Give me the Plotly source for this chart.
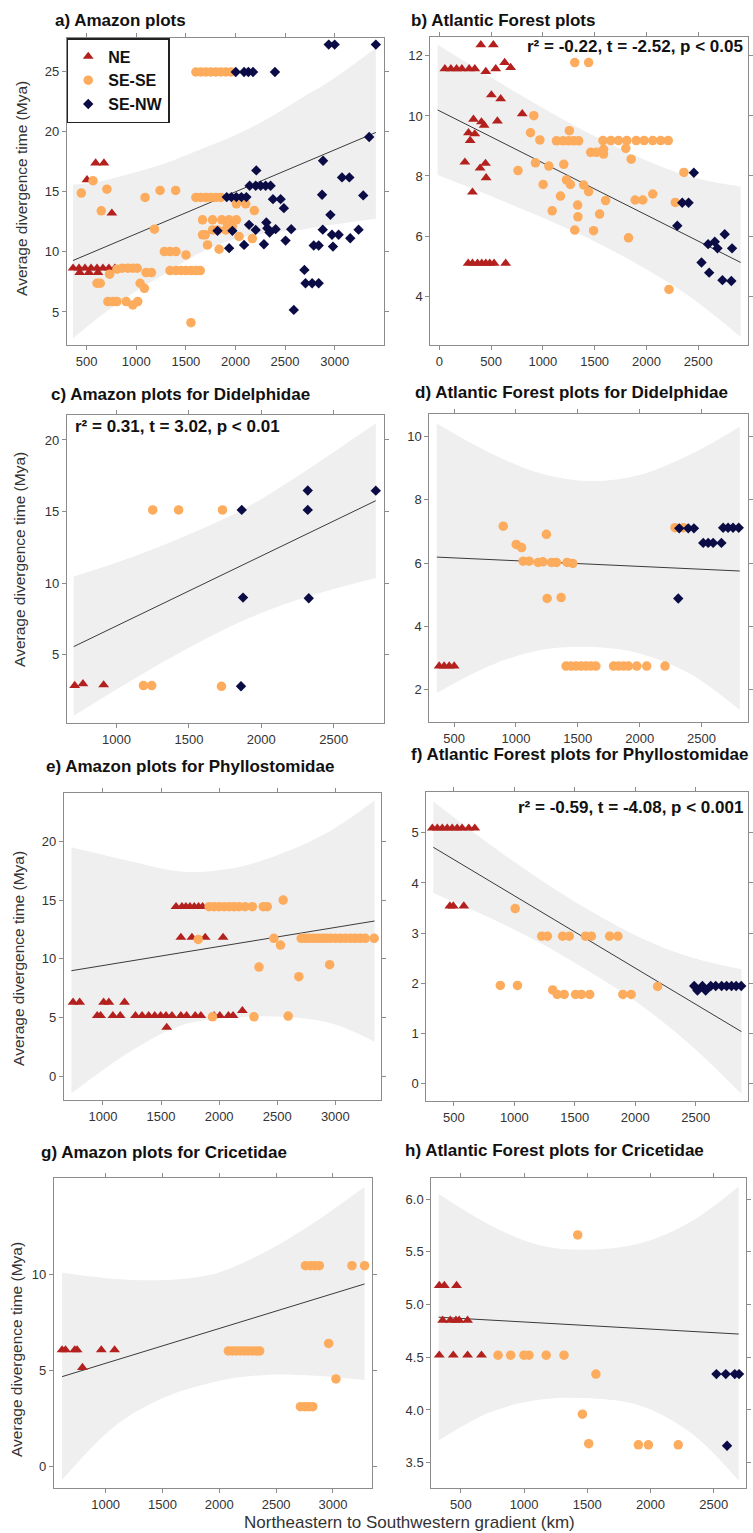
import plotly.graph_objects as go

W, H = 753, 1533
FONT = "Liberation Sans, Arial, sans-serif"
C_NE, C_SESE, C_SENW = "#B3201E", "#FDAB5C", "#0B0C46"
C_BAND, C_LINE, C_AXIS, C_TEXT = "#EFEFEF", "#3A3A3A", "#8C8C8C", "#333333"
GROUPS = ["NE", "SE-SE", "SE-NW"]

# ---------------- panel a: Amazon plots ----------------
A_NE_X = [363, 423, 483, 544, 604, 664, 724, 784, 430, 523, 614, 503, 590, 674, 754]
A_NE_Y = [8.64, 8.64, 8.64, 8.64, 8.64, 8.64, 8.64, 8.64, 8.28, 8.28, 8.28, 16.0, 17.39, 17.39, 13.22]
A_SESE_X = [446, 564, 704, 647, 604, 637, 731, 805, 858, 915, 965, 1009, 714, 764, 805, 898, 965, 1015,
            1039, 1082, 1089, 1099, 1153, 1183, 1240, 1397, 1283, 1340, 1400, 1501, 1340, 1400, 1451, 1501,
            1551, 1601, 1645, 1551, 1601, 1651, 1702, 1752, 1802, 1852, 1668, 1769, 1862, 1936, 2009, 1668,
            1695, 1718, 1769, 1819, 1902, 1835, 1922, 1969, 2036, 2009, 2103, 2190, 2170,
            1601, 1651, 1702, 1752, 1802, 1852, 1902, 1953]
A_SESE_Y = [14.89, 15.92, 15.22, 13.42, 7.39, 7.39, 8.14, 8.56, 8.64, 8.64, 8.64, 8.64, 5.86, 5.86, 5.86, 5.86, 5.58, 5.86,
            7.39, 6.97, 14.53, 8.28, 8.28, 11.89, 15.11, 15.11, 10.03, 10.03, 10.03, 9.75, 8.44, 8.44, 8.44, 8.44,
            8.44, 8.44, 8.44, 4.11, 14.53, 14.53, 14.53, 14.53, 14.53, 14.53, 12.67, 12.67, 12.67, 12.67, 12.67, 11.42,
            11.42, 10.58, 11.83, 11.83, 11.83, 10.22, 12.25, 12.11, 11.28, 14.0, 14.0, 13.44, 11.11,
            24.97, 24.97, 24.97, 24.97, 24.97, 24.97, 24.97, 24.97]
A_SENW_X = [2003, 2087, 2130, 2177, 2398, 1912, 1959, 2009, 2060, 2110, 2143, 2204, 2254, 2304, 2354, 2210,
            2378, 2455, 2488, 1819, 1969, 1936, 2087, 2137, 2204, 2311, 2321, 2344, 2405, 2287, 2505, 2562,
            2940, 3000, 3415, 3348, 2883, 3074, 3148, 2873, 3288, 2957, 2880, 2973, 3040, 2983, 3157, 3241,
            2789, 2839, 2695, 2706, 2773, 2839, 2588]
A_SENW_Y = [24.97, 24.97, 24.97, 24.97, 24.97, 14.56, 14.56, 14.56, 14.56, 14.56, 15.5, 15.5, 15.5, 15.5, 15.5, 16.78,
            14.39, 14.39, 13.64, 11.75, 11.75, 10.31, 10.58, 12.25, 11.83, 12.44, 11.97, 11.61, 11.89, 10.64, 10.94, 11.89,
            27.25, 27.25, 27.25, 19.56, 17.58, 16.2, 16.2, 14.75, 14.7, 13.08, 11.85, 11.42, 11.42, 10.44, 11.14, 11.85,
            10.53, 10.53, 8.5, 7.39, 7.39, 7.39, 5.17]
A_FIT_X = [362, 3415]
A_FIT_Y = [9.28, 19.94]
A_BAND_X = [362, 630, 965, 1300, 1635, 1969, 2304, 2639, 2973, 3415]
A_BAND_HI = [15.58, 15.86, 16.56, 17.39, 18.5, 19.6, 21.0, 22.67, 24.33, 26.97]
A_BAND_LO = [2.81, 4.61, 6.56, 8.22, 9.89, 11.0, 11.56, 11.83, 12.25, 12.75]

# ---------------- panel b: Atlantic Forest plots ----------------
B_NE_X = [54, 112, 167, 218, 288, 343, 449, 545, 631, 689, 401, 522, 503, 593, 330, 407, 433, 561, 801,
          282, 343, 298, 247, 394, 446, 452, 320, 279, 320, 369, 410, 449, 487, 529, 641]
B_NE_Y = [11.57, 11.57, 11.57, 11.57, 11.57, 11.57, 11.48, 11.57, 11.78, 11.61, 12.37, 12.37, 10.7, 10.57, 9.89, 9.8, 9.69, 9.83, 10.07,
          9.44, 9.4, 9.18, 8.46, 8.26, 8.42, 7.94, 7.46, 5.09, 5.09, 5.09, 5.09, 5.09, 5.09, 5.09, 5.09]
B_SESE_X = [1308, 1442, 913, 881, 971, 760, 929, 1058, 1202, 1256, 1131, 1195, 1250, 1298, 1346, 1462, 1516, 1586, 1586,
            1580, 1657, 1731, 1811, 1901, 1978, 2061, 2138, 2211, 1801, 1853, 1003, 1170, 1228, 1266, 1394, 1442,
            1090, 1336, 1339, 1308, 1490, 1548, 1606, 1891, 1965, 2061, 1827, 2218, 2279, 2362]
B_SESE_Y = [11.78, 11.78, 10.01, 9.44, 9.2, 8.18, 8.44, 8.33, 8.39, 9.51, 9.17, 9.17, 9.17, 9.17, 9.17, 8.79, 8.79, 8.89, 8.73,
            9.18, 9.18, 9.18, 9.18, 9.18, 9.18, 9.18, 9.18, 9.18, 8.92, 8.56, 7.72, 7.33, 7.87, 7.72, 7.7, 7.48,
            6.84, 7.03, 6.64, 6.2, 6.18, 6.73, 7.18, 7.2, 7.2, 7.4, 5.94, 4.22, 7.12, 8.12]
B_SENW_X = [2458, 2346, 2407, 2298, 2596, 2660, 2686, 2756, 2827, 2532, 2606, 2734, 2820]
B_SENW_Y = [8.11, 7.11, 7.11, 6.34, 5.73, 5.81, 5.59, 6.06, 5.59, 5.12, 4.78, 4.53, 4.5]
B_FIT_X = [-16, 2910]
B_FIT_Y = [10.2, 5.12]
B_BAND_X = [-16, 497, 978, 1458, 1939, 2420, 2910]
B_BAND_HI = [12.37, 11.29, 10.31, 9.4, 8.61, 7.98, 7.64]
B_BAND_LO = [8.03, 7.33, 6.64, 5.89, 5.01, 3.98, 2.64]

# ---------------- panel c: Amazon, Didelphidae ----------------
C_NE_X = [711, 768, 911]
C_NE_Y = [2.86, 2.98, 2.91]
C_SESE_X = [1186, 1243, 1725, 1250, 1429, 1732]
C_SESE_Y = [2.86, 2.86, 2.81, 15.12, 15.12, 15.12]
C_SENW_X = [1865, 1874, 1860, 2321, 2321, 2328, 2791]
C_SENW_Y = [15.12, 9.0, 2.81, 16.47, 15.12, 8.95, 16.46]
C_FIT_X = [704, 2791]
C_FIT_Y = [5.58, 15.76]
C_BAND_X = [704, 1100, 1500, 1900, 2300, 2791]
C_BAND_HI = [10.47, 11.8, 13.4, 15.3, 17.8, 21.16]
C_BAND_LO = [0.75, 3.2, 5.5, 7.5, 9.0, 10.36]

# ---------------- panel d: Atlantic Forest, Didelphidae ----------------
D_NE_X = [379, 419, 460, 500]
D_NE_Y = [2.74, 2.74, 2.74, 2.74]
D_SESE_X = [897, 1002, 1045, 1246, 1058, 1106, 1179, 1217, 1287, 1327, 1413, 1459, 1252, 1365,
            1405, 1445, 1485, 1526, 1566, 1606, 1646, 1789, 1829, 1869, 1909, 1977, 2057, 2205, 2286, 2353]
D_SESE_Y = [7.17, 6.59, 6.49, 6.91, 6.06, 6.06, 6.02, 6.04, 6.02, 6.02, 6.02, 5.99, 4.88, 4.91,
            2.74, 2.74, 2.74, 2.74, 2.74, 2.74, 2.74, 2.74, 2.74, 2.74, 2.74, 2.74, 2.74, 2.74, 7.12, 7.12]
D_SENW_X = [2320, 2393, 2439, 2514, 2554, 2594, 2661, 2675, 2715, 2755, 2801, 2312]
D_SENW_Y = [7.1, 7.1, 7.1, 6.64, 6.64, 6.64, 6.64, 7.12, 7.12, 7.12, 7.12, 4.88]
D_FIT_X = [360, 2809]
D_FIT_Y = [6.19, 5.75]
D_BAND_X = [360, 800, 1200, 1600, 2000, 2400, 2809]
D_BAND_HI = [10.42, 9.47, 8.84, 8.6, 8.79, 9.42, 10.32]
D_BAND_LO = [1.89, 2.77, 3.25, 3.35, 3.14, 2.51, 1.35]

# ---------------- panel e: Amazon, Phyllostomidae ----------------
E_NE_X = [743, 800, 1006, 1051, 1186, 951, 980, 1086, 1149,
          1280, 1337, 1394, 1446, 1497, 1543, 1594, 1671, 1720, 1794, 1843, 1957, 2006, 2080, 2120,
          1549, 2200, 1629, 1680, 1714, 1749, 1786, 1823, 1857, 1671, 1766, 1880, 2034]
E_NE_Y = [6.29, 6.29, 6.29, 6.29, 6.29, 5.15, 5.15, 5.15, 5.15,
          5.15, 5.15, 5.15, 5.15, 5.15, 5.15, 5.15, 5.15, 5.15, 5.15, 5.15, 5.15, 5.15, 5.15, 5.15,
          4.15, 5.58, 14.45, 14.45, 14.45, 14.45, 14.45, 14.45, 14.45, 11.83, 11.83, 11.83, 11.83]
E_SESE_X = [1914, 1957, 2000, 2043, 2086, 2129, 2171, 2223, 2286, 2380, 2414, 2551, 1820, 2471, 2528,
            2343, 2686, 2951, 1943, 2300, 2594,
            2706, 2743, 2777, 2814, 2851, 2886, 2920, 2957, 3000, 3043, 3086, 3129, 3171, 3214, 3257, 3334]
E_SESE_Y = [14.45, 14.45, 14.45, 14.45, 14.45, 14.45, 14.45, 14.45, 14.45, 14.45, 14.45, 15.02, 11.66, 11.75, 11.18,
            9.3, 8.48, 9.5, 5.06, 5.06, 5.12,
            11.75, 11.75, 11.75, 11.75, 11.75, 11.75, 11.75, 11.75, 11.75, 11.75, 11.75, 11.75, 11.75, 11.75, 11.75, 11.75]
E_SENW_X = []
E_SENW_Y = []
E_FIT_X = [729, 3337]
E_FIT_Y = [8.99, 13.23]
E_BAND_X = [729, 1257, 1686, 2114, 2543, 2971, 3337]
E_BAND_HI = [19.52, 18.29, 17.44, 17.72, 19.0, 21.0, 23.5]
E_BAND_LO = [-1.48, 2.22, 4.35, 5.0, 5.06, 4.49, 2.93]

# ---------------- panel f: Atlantic Forest, Phyllostomidae ----------------
F_NE_X = [322, 363, 404, 445, 486, 527, 568, 623, 673, 467, 495, 582]
F_NE_Y = [5.09, 5.09, 5.09, 5.09, 5.09, 5.09, 5.09, 5.09, 5.09, 3.54, 3.54, 3.54]
F_SESE_X = [1007, 884, 1026, 1226, 1273, 1399, 1454, 1588, 1637, 1788, 1856, 1317, 1355, 1412,
            1506, 1555, 1623, 1897, 1966, 2185]
F_SESE_Y = [3.49, 1.96, 1.96, 2.94, 2.94, 2.94, 2.94, 2.94, 2.94, 2.94, 2.94, 1.87, 1.78, 1.78,
            1.78, 1.78, 1.78, 1.78, 1.78, 1.94]
F_SENW_X = [2487, 2514, 2555, 2582, 2624, 2665, 2714, 2755, 2796, 2834, 2876]
F_SENW_Y = [1.95, 1.86, 1.95, 1.86, 1.95, 1.95, 1.95, 1.95, 1.95, 1.95, 1.95]
F_FIT_X = [330, 2878]
F_FIT_Y = [4.71, 1.04]
F_BAND_X = [330, 801, 1212, 1623, 2034, 2445, 2878]
F_BAND_HI = [5.62, 4.76, 4.07, 3.45, 2.92, 2.53, 2.28]
F_BAND_LO = [3.80, 3.30, 2.81, 2.23, 1.59, 0.80, -0.20]

# ---------------- panel g: Amazon, Cricetidae ----------------
G_NE_X = [617, 647, 728, 749, 962, 1079, 796]
G_NE_Y = [6.07, 6.07, 6.07, 6.07, 6.07, 6.07, 5.15]
G_SESE_X = [2080, 2115, 2150, 2186, 2221, 2256, 2291, 2326, 2355, 2758, 2802, 2840, 2880, 3167, 3278,
            2962, 3026, 2714, 2752, 2787, 2822]
G_SESE_Y = [6.02, 6.02, 6.02, 6.02, 6.02, 6.02, 6.02, 6.02, 6.02, 10.45, 10.45, 10.45, 10.45, 10.45, 10.45,
            6.41, 4.56, 3.12, 3.12, 3.12, 3.12]
G_SENW_X = []
G_SENW_Y = []
G_FIT_X = [617, 3278]
G_FIT_Y = [4.68, 9.5]
G_BAND_X = [617, 1093, 1531, 1969, 2407, 2845, 3278]
G_BAND_HI = [10.1, 9.76, 9.71, 10.05, 11.18, 12.74, 14.56]
G_BAND_LO = [-0.69, 2.17, 3.64, 4.42, 4.77, 4.73, 4.5]

# ---------------- panel h: Atlantic Forest, Cricetidae ----------------
H_NE_X = [329, 369, 466, 356, 416, 461, 487, 553, 329, 440, 553, 663]
H_NE_Y = [5.18, 5.18, 5.18, 4.85, 4.85, 4.85, 4.85, 4.85, 4.52, 4.52, 4.52, 4.52]
H_SESE_X = [1424, 794, 894, 999, 1038, 1175, 1316, 1568, 1461, 1511, 1904, 1983, 2219]
H_SESE_Y = [5.66, 4.52, 4.52, 4.52, 4.52, 4.52, 4.52, 4.34, 3.96, 3.68, 3.67, 3.67, 3.67]
H_SENW_X = [2521, 2595, 2666, 2700, 2605]
H_SENW_Y = [4.34, 4.34, 4.34, 4.34, 3.66]
H_FIT_X = [324, 2697]
H_FIT_Y = [4.88, 4.72]
H_BAND_X = [324, 736, 1130, 1524, 1918, 2311, 2697]
H_BAND_HI = [6.05, 5.75, 5.56, 5.52, 5.58, 5.78, 6.12]
H_BAND_LO = [3.71, 3.98, 4.10, 4.11, 4.04, 3.79, 3.33]

TITLES = ["a) Amazon plots", "b) Atlantic Forest plots",
          "c) Amazon plots for Didelphidae", "d) Atlantic Forest plots for Didelphidae",
          "e) Amazon plots for Phyllostomidae", "f) Atlantic Forest plots for Phyllostomidae",
          "g) Amazon plots for Cricetidae", "h) Atlantic Forest plots for Cricetidae"]
STATS = {"b": "r\u00b2 = -0.22, t = -2.52, p < 0.05",
         "c": "r\u00b2 = 0.31, t = 3.02, p < 0.01",
         "f": "r\u00b2 = -0.59, t = -4.08, p < 0.001"}

DATA = {
    "a": (A_NE_X, A_NE_Y, A_SESE_X, A_SESE_Y, A_SENW_X, A_SENW_Y, A_FIT_X, A_FIT_Y, A_BAND_X, A_BAND_LO, A_BAND_HI),
    "b": (B_NE_X, B_NE_Y, B_SESE_X, B_SESE_Y, B_SENW_X, B_SENW_Y, B_FIT_X, B_FIT_Y, B_BAND_X, B_BAND_LO, B_BAND_HI),
    "c": (C_NE_X, C_NE_Y, C_SESE_X, C_SESE_Y, C_SENW_X, C_SENW_Y, C_FIT_X, C_FIT_Y, C_BAND_X, C_BAND_LO, C_BAND_HI),
    "d": (D_NE_X, D_NE_Y, D_SESE_X, D_SESE_Y, D_SENW_X, D_SENW_Y, D_FIT_X, D_FIT_Y, D_BAND_X, D_BAND_LO, D_BAND_HI),
    "e": (E_NE_X, E_NE_Y, E_SESE_X, E_SESE_Y, E_SENW_X, E_SENW_Y, E_FIT_X, E_FIT_Y, E_BAND_X, E_BAND_LO, E_BAND_HI),
    "f": (F_NE_X, F_NE_Y, F_SESE_X, F_SESE_Y, F_SENW_X, F_SENW_Y, F_FIT_X, F_FIT_Y, F_BAND_X, F_BAND_LO, F_BAND_HI),
    "g": (G_NE_X, G_NE_Y, G_SESE_X, G_SESE_Y, G_SENW_X, G_SENW_Y, G_FIT_X, G_FIT_Y, G_BAND_X, G_BAND_LO, G_BAND_HI),
    "h": (H_NE_X, H_NE_Y, H_SESE_X, H_SESE_Y, H_SENW_X, H_SENW_Y, H_FIT_X, H_FIT_Y, H_BAND_X, H_BAND_LO, H_BAND_HI),
}

# layout of each panel (pixel box, axis ranges, ticks)
LAYOUT = {
    "a": dict(box=(67, 386, 38, 345), xr=[299, 3502], yr=[2.25, 27.8], xt=[500, 1000, 1500, 2000, 2500, 3000], yt=[5, 10, 15, 20, 25],
              title=(53, 20), ytitle=(21, 188)),
    "b": dict(box=(432, 751, 37, 345), xr=[-87, 2981], yr=[2.37, 12.63], xt=[0, 500, 1000, 1500, 2000, 2500], yt=[4, 6, 8, 10, 12],
              title=(411, 20), stat=(748, 47, "right")),
    "c": dict(box=(67, 386, 415, 723), xr=[656, 2851], yr=[0.25, 21.74], xt=[1000, 1500, 2000, 2500], yt=[5, 10, 15, 20],
              title=(49, 394), ytitle=(20, 559), stat=(73, 427, "left")),
    "d": dict(box=(431, 751, 414, 722), xr=[299, 2876], yr=[0.97, 10.72], xt=[500, 1000, 1500, 2000, 2500], yt=[2, 4, 6, 8, 10],
              title=(415, 392)),
    "e": dict(box=(64, 383, 793, 1100), xr=[663, 3397], yr=[-2.04, 24.15], xt=[1000, 1500, 2000, 2500, 3000], yt=[0, 5, 10, 15, 20],
              title=(44, 766), ytitle=(18, 958)),
    "f": dict(box=(428, 751, 792, 1101), xr=[272, 2932], yr=[-0.34, 5.81], xt=[500, 1000, 1500, 2000, 2500], yt=[0, 1, 2, 3, 4, 5],
              title=(411, 754), stat=(748, 807, "right")),
    "g": dict(box=(54, 373, 1178, 1488), xr=[544, 3339], yr=[-1.11, 15.01], xt=[1000, 1500, 2000, 2500, 3000], yt=[0, 5, 10],
              title=(39, 1152), ytitle=(16, 1349)),
    "h": dict(box=(433, 749, 1178, 1488), xr=[266, 2755], yr=[3.26, 6.2], xt=[500, 1000, 1500, 2000, 2500],
              yt=[3.5, 4.0, 4.5, 5.0, 5.5, 6.0], title=(405, 1150), ytickformat=".1f"),
}


def px(p):
    return p / W


def py(p):
    return 1 - p / H


fig = go.Figure()
annotations = []
layout_axes = {}
MARK = {
    "NE": dict(symbol="triangle-up", size=9.5, color=C_NE),
    "SE-SE": dict(symbol="circle", size=9.5, color=C_SESE),
    "SE-NW": dict(symbol="diamond", size=8, color=C_SENW),
}

for i, key in enumerate("abcdefgh"):
    n = "" if i == 0 else str(i + 1)
    xa, ya = "x" + n, "y" + n
    ne_x, ne_y, se_x, se_y, nw_x, nw_y, fx, fy, bx, blo, bhi = DATA[key]
    L = LAYOUT[key]
    x0, x1, y0, y1 = L["box"]

    fig.add_trace(go.Scatter(x=bx, y=blo, mode="lines", line=dict(width=0, color=C_BAND, shape="spline"),
                             showlegend=False, hoverinfo="skip", xaxis=xa, yaxis=ya))
    fig.add_trace(go.Scatter(x=bx, y=bhi, mode="lines", line=dict(width=0, color=C_BAND, shape="spline"),
                             fill="tonexty", fillcolor=C_BAND, showlegend=False, hoverinfo="skip",
                             xaxis=xa, yaxis=ya))
    fig.add_trace(go.Scatter(x=fx, y=fy, mode="lines", line=dict(width=1, color=C_LINE),
                             showlegend=False, xaxis=xa, yaxis=ya))
    for g, (gx, gy) in zip(GROUPS, [(ne_x, ne_y), (se_x, se_y), (nw_x, nw_y)]):
        m = MARK[g]
        fig.add_trace(go.Scatter(x=gx, y=gy, mode="markers", name="<b>" + g + "</b>",
                                 marker=dict(symbol=m["symbol"], size=m["size"], color=m["color"], line=dict(width=0)),
                                 showlegend=(key == "a"), cliponaxis=False, xaxis=xa, yaxis=ya))

    axis_common = dict(showgrid=False, zeroline=False, showline=True, linecolor=C_AXIS, linewidth=1,
                       mirror="ticks", ticks="outside", ticklen=4, tickcolor=C_AXIS, tickwidth=1,
                       tickfont=dict(family=FONT, size=13, color=C_TEXT))
    layout_axes["xaxis" + n] = dict(axis_common, domain=[px(x0), px(x1)], range=L["xr"], tickvals=L["xt"],
                                   anchor=ya)
    yax = dict(axis_common, domain=[py(y1), py(y0)], range=L["yr"], tickvals=L["yt"], anchor=xa)
    if "ytickformat" in L:
        yax["tickformat"] = L["ytickformat"]
    layout_axes["yaxis" + n] = yax

    tx, ty = L["title"]
    annotations.append(dict(text="<b>" + TITLES[i] + "</b>", x=px(tx), y=py(ty), xref="paper", yref="paper",
                            xanchor="left", yanchor="middle", showarrow=False,
                            font=dict(family=FONT, size=17, color="#111111")))
    if "ytitle" in L:
        yx, yy = L["ytitle"]
        annotations.append(dict(text="Average divergence time (Mya)", x=px(yx), y=py(yy), xref="paper", yref="paper",
                                xanchor="center", yanchor="middle", textangle=-90, showarrow=False,
                                font=dict(family=FONT, size=15.5, color=C_TEXT)))
    if "stat" in L:
        sx, sy, anc = L["stat"]
        annotations.append(dict(text="<b>" + STATS[key] + "</b>", x=px(sx), y=py(sy), xref="paper", yref="paper",
                                xanchor=anc, yanchor="middle", showarrow=False,
                                font=dict(family=FONT, size=17, color="#111111")))

annotations.append(dict(text="Northeastern to Southwestern gradient (km)", x=px(411), y=py(1522),
                        xref="paper", yref="paper", xanchor="center", yanchor="middle", showarrow=False,
                        font=dict(family=FONT, size=17, color=C_TEXT)))

fig.update_layout(
    width=W, height=H, margin=dict(l=0, r=0, t=0, b=0),
    paper_bgcolor="white", plot_bgcolor="white",
    font=dict(family=FONT, color=C_TEXT),
    annotations=annotations,
    legend=dict(x=px(67), y=py(38), xanchor="left", yanchor="top", bgcolor="white", traceorder="normal",
                bordercolor="#222222", borderwidth=1.5, font=dict(family=FONT, size=16, color="#111111"),
                tracegroupgap=0, itemwidth=30),
    **layout_axes,
)

POST = ("document.documentElement.style.margin='0';document.body.style.margin='0';"
        "document.body.style.padding='0';document.body.style.overflow='hidden';"
        "document.documentElement.style.overflow='hidden';")
fig.write_html("out.html", post_script=POST, config={"displayModeBar": False})
